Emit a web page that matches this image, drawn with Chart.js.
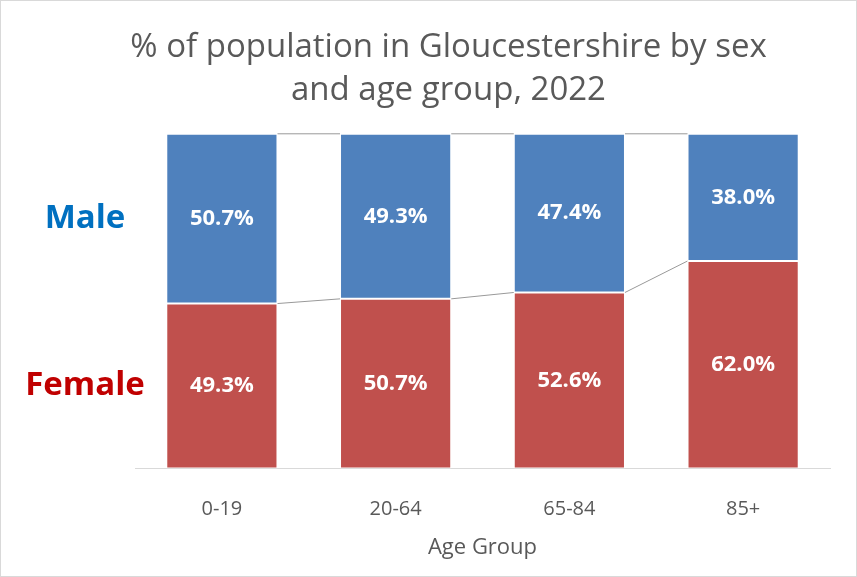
<!DOCTYPE html>
<html lang="en">
<head>
    <meta charset="UTF-8">
    <title>% of population in Gloucestershire by sex and age group, 2022</title>
    <script src="https://cdn.jsdelivr.net/npm/chart.js"></script>
    <style>
        html, body { margin: 0; padding: 0; background: #fff; }
        .frame { width: 857px; height: 577px; box-sizing: border-box; border: 1px solid #d9d9d9; }
        .frame canvas { display: block; }
    </style>
</head>
<body>
    <div class="frame">
        <canvas id="popChart" width="855" height="575"></canvas>
    </div>

    <script>
        // Data
        const ageGroups = ['0-19', '20-64', '65-84', '85+'];
        const femalePct = [49.3, 50.7, 52.6, 62.0];
        const malePct = [50.7, 49.3, 47.4, 38.0];
        const seriesNames = ['Female', 'Male'];

        const FONT = '"Open Sans", Lato, sans-serif';
        const BLUE = '#4f81bd';
        const RED = '#c0504d';

        // Excel-style series lines joining the stack tops between bars
        const seriesLines = {
            id: 'seriesLines',
            beforeDatasetsDraw(chart) {
                const ctx = chart.ctx;
                ctx.save();
                ctx.strokeStyle = '#999999';
                ctx.lineWidth = 1;
                chart.data.datasets.forEach((ds, d) => {
                    const bars = chart.getDatasetMeta(d).data;
                    for (let i = 0; i < bars.length - 1; i++) {
                        const a = bars[i], b = bars[i + 1];
                        ctx.beginPath();
                        ctx.moveTo(a.x + a.width / 2, a.y);
                        ctx.lineTo(b.x - b.width / 2, b.y);
                        ctx.stroke();
                    }
                });
                ctx.restore();
            }
        };

        // value labels inside the bars + series names on the left
        const barLabels = {
            id: 'barLabels',
            afterDatasetsDraw(chart) {
                const ctx = chart.ctx;
                ctx.save();
                ctx.textAlign = 'center';
                ctx.textBaseline = 'middle';
                chart.data.datasets.forEach((ds, d) => {
                    const bars = chart.getDatasetMeta(d).data;
                    ctx.fillStyle = '#ffffff';
                    ctx.font = 'bold 22px ' + FONT;
                    bars.forEach((bar, i) => {
                        const mid = (bar.y + bar.base) / 2;
                        ctx.fillText(ds.data[i].toFixed(1) + '%', bar.x, mid);
                    });
                    // series name beside the first bar
                    const first = bars[0];
                    ctx.font = 'bold 33px ' + FONT;
                    ctx.fillStyle = ds.nameColor;
                    ctx.fillText(ds.label, chart.chartArea.left - 50, (first.y + first.base) / 2);
                });
                ctx.restore();
            }
        };

        const ctx = document.getElementById('popChart').getContext('2d');
        new Chart(ctx, {
            type: 'bar',
            data: {
                labels: ageGroups,
                datasets: [
                    { label: seriesNames[0], data: femalePct, backgroundColor: RED, nameColor: '#c00000',
                      borderColor: '#ffffff', borderWidth: 1, borderSkipped: false },
                    { label: seriesNames[1], data: malePct, backgroundColor: BLUE, nameColor: '#0070c0',
                      borderColor: '#ffffff', borderWidth: 1, borderSkipped: false }
                ]
            },
            options: {
                responsive: false,
                animation: false,
                layout: { padding: { left: 66, right: 26, top: 0, bottom: 11 } },
                datasets: { bar: { categoryPercentage: 1, barPercentage: 0.64 } },
                plugins: {
                    legend: { display: false },
                    tooltip: { enabled: false },
                    title: {
                        display: true,
                        text: ['% of population in Gloucestershire by sex', 'and age group, 2022'],
                        color: '#595959',
                        font: { family: FONT, size: 33, weight: 'normal', lineHeight: 1.3 },
                        padding: { top: 25, bottom: 22 }
                    }
                },
                scales: {
                    x: {
                        stacked: true,
                        grid: { display: false },
                        border: { display: true, color: '#d9d9d9', width: 1 },
                        ticks: { color: '#595959', font: { family: FONT, size: 20 }, padding: 21 },
                        title: { display: true, text: 'Age Group', color: '#595959',
                                 font: { family: FONT, size: 22 }, padding: { top: -8, bottom: 4 } }
                    },
                    y: {
                        stacked: true,
                        min: 0,
                        max: 100,
                        grid: { display: false },
                        border: { display: false },
                        ticks: { display: false },
                        afterFit(scale) { scale.width = 68; }
                    }
                }
            },
            plugins: [seriesLines, barLabels]
        });
    </script>
</body>
</html>
